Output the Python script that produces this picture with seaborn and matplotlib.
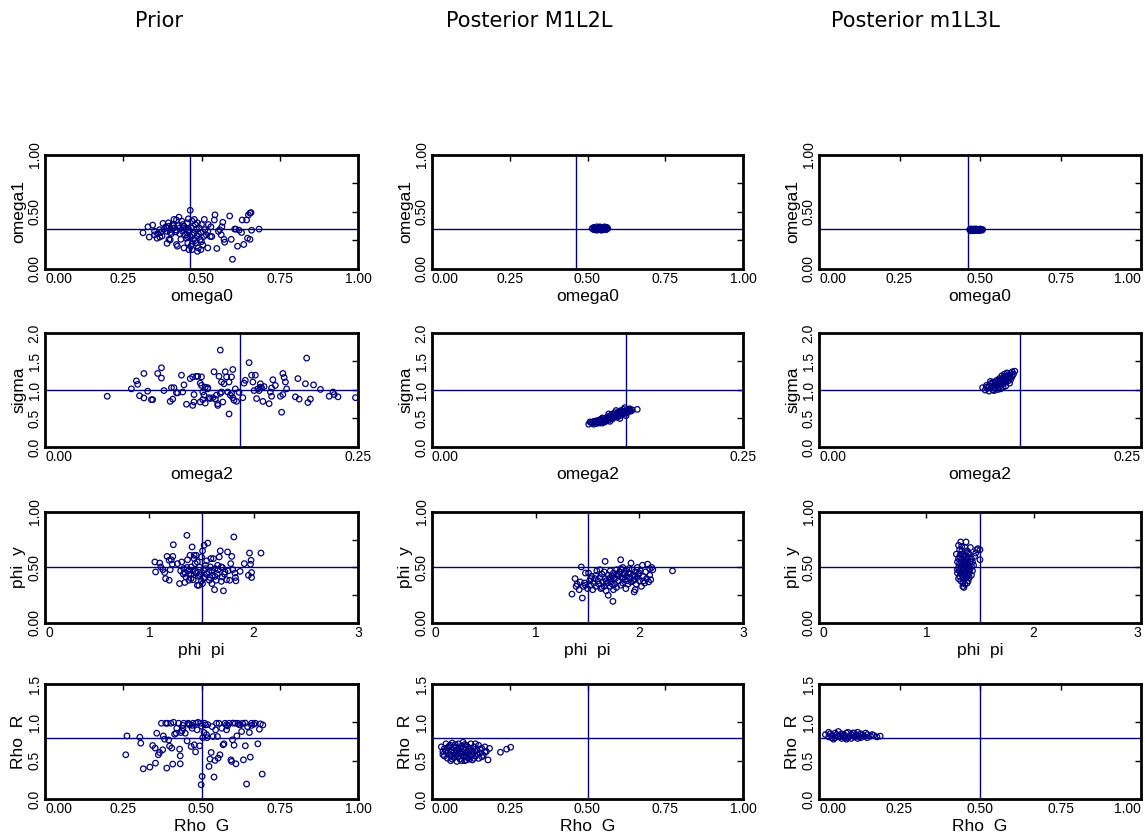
import matplotlib
matplotlib.use('Agg')
import matplotlib.pyplot as plt
import seaborn as sns
import pandas as pd

sns.set_style('white')
plt.rcParams['font.family'] = ['Liberation Sans', 'DejaVu Sans']
plt.rcParams['text.color'] = 'black'
plt.rcParams['axes.labelcolor'] = 'black'
plt.rcParams['xtick.color'] = 'black'
plt.rcParams['ytick.color'] = 'black'

col_titles = ["Prior", "Posterior M1L2L", "Posterior m1L3L"]
x_labels = ["omega0", "omega2", "phi  pi", "Rho  G"]
y_labels = ["omega1", "sigma", "phi  y", "Rho  R"]

# reference (true) values per row: (x, y)
true_omega = (0.462, 0.355)
true_sigma = (0.156, 1.0)
true_phi = (1.5, 0.5)
true_rho = (0.5, 0.8)

# ---------------- row 1: omega0 vs omega1 ----------------
prior_omega = [
    (0.313, 0.318), (0.329, 0.37), (0.344, 0.385), (0.333, 0.28), (0.35, 0.30), (0.358, 0.27),
    (0.367, 0.28), (0.374, 0.29), (0.377, 0.40), (0.386, 0.37), (0.39, 0.33), (0.39, 0.225),
    (0.396, 0.375), (0.40, 0.345), (0.404, 0.31), (0.408, 0.39), (0.412, 0.36), (0.394, 0.405),
    (0.418, 0.325), (0.42, 0.215), (0.423, 0.20), (0.42, 0.43), (0.426, 0.38), (0.43, 0.36),
    (0.434, 0.26), (0.437, 0.42), (0.44, 0.33), (0.444, 0.375), (0.448, 0.30), (0.452, 0.27),
    (0.456, 0.23), (0.458, 0.44), (0.464, 0.515), (0.46, 0.345), (0.464, 0.285), (0.466, 0.20),
    (0.468, 0.36), (0.47, 0.42), (0.475, 0.26), (0.477, 0.315), (0.48, 0.39), (0.482, 0.23),
    (0.484, 0.35), (0.487, 0.29), (0.49, 0.185), (0.493, 0.36), (0.496, 0.26), (0.498, 0.32),
    (0.50, 0.39), (0.504, 0.21), (0.507, 0.285), (0.511, 0.345), (0.52, 0.185), (0.522, 0.39),
    (0.528, 0.285), (0.533, 0.285), (0.541, 0.43), (0.543, 0.475), (0.549, 0.18), (0.554, 0.33),
    (0.558, 0.345), (0.563, 0.30), (0.565, 0.37), (0.568, 0.41), (0.572, 0.26), (0.574, 0.235),
    (0.59, 0.465), (0.595, 0.26), (0.599, 0.085), (0.606, 0.35), (0.61, 0.35), (0.615, 0.20),
    (0.62, 0.34), (0.628, 0.32), (0.63, 0.43), (0.635, 0.215), (0.644, 0.43), (0.647, 0.27),
    (0.65, 0.475), (0.655, 0.49), (0.658, 0.495), (0.655, 0.26), (0.66, 0.34), (0.684, 0.35),
    (0.428, 0.455), (0.412, 0.435), (0.396, 0.26), (0.40, 0.255), (0.444, 0.185), (0.46, 0.17),
    (0.47, 0.17), (0.487, 0.155), (0.498, 0.17), (0.509, 0.435), (0.477, 0.435), (0.487, 0.405),
    (0.455, 0.405), (0.44, 0.39), (0.38, 0.35), (0.366, 0.345), (0.47, 0.30), (0.48, 0.25),
    (0.46, 0.33), (0.49, 0.31), (0.45, 0.35), (0.43, 0.31), (0.41, 0.38), (0.40, 0.32),
    (0.47, 0.22), (0.50, 0.24), (0.52, 0.33), (0.53, 0.37), (0.515, 0.30), (0.455, 0.285),
    (0.44, 0.36), (0.42, 0.34), (0.39, 0.36), (0.37, 0.32), (0.36, 0.31), (0.35, 0.33),
]
m1l2l_omega = [
    (0.515, 0.355), (0.52, 0.345), (0.52, 0.365), (0.525, 0.35), (0.525, 0.36), (0.53, 0.34),
    (0.53, 0.37), (0.535, 0.355), (0.535, 0.345), (0.54, 0.36), (0.54, 0.35), (0.54, 0.37),
    (0.545, 0.34), (0.545, 0.355), (0.55, 0.365), (0.55, 0.345), (0.555, 0.35), (0.555, 0.37),
    (0.56, 0.36), (0.56, 0.345), (0.565, 0.355), (0.528, 0.357), (0.538, 0.365), (0.548, 0.352),
    (0.553, 0.36), (0.533, 0.348), (0.543, 0.347), (0.558, 0.353), (0.523, 0.358), (0.562, 0.365),
]
m1l3l_omega = [
    (0.468, 0.345), (0.472, 0.335), (0.472, 0.352), (0.476, 0.34), (0.478, 0.348), (0.482, 0.336),
    (0.484, 0.352), (0.488, 0.342), (0.49, 0.35), (0.494, 0.338), (0.496, 0.347), (0.50, 0.342),
    (0.502, 0.35), (0.506, 0.34), (0.508, 0.346), (0.48, 0.344), (0.492, 0.344), (0.498, 0.338),
    (0.47, 0.34), (0.486, 0.338), (0.50, 0.35), (0.504, 0.345),
]

# ---------------- row 2: omega2 vs sigma ----------------
prior_sigma = [
    (0.0497, 0.89), (0.069, 1.02), (0.073, 1.16), (0.074, 1.10), (0.0755, 0.90), (0.079, 1.29),
    (0.079, 0.86), (0.082, 0.98), (0.085, 0.83), (0.086, 0.83), (0.090, 1.29), (0.093, 1.39),
    (0.093, 1.21), (0.095, 0.99), (0.100, 0.80), (0.101, 1.04), (0.102, 0.84), (0.103, 1.04),
    (0.105, 0.95), (0.106, 0.95), (0.109, 1.26), (0.110, 0.965), (0.111, 1.09), (0.113, 0.75),
    (0.116, 1.20), (0.118, 1.23), (0.118, 0.73), (0.119, 0.79), (0.119, 0.92), (0.121, 1.24),
    (0.122, 1.24), (0.124, 0.79), (0.124, 1.12), (0.125, 1.08), (0.125, 1.23), (0.126, 0.83),
    (0.126, 0.965), (0.127, 0.91), (0.128, 1.05), (0.128, 0.77), (0.130, 1.04), (0.130, 1.02),
    (0.131, 0.865), (0.132, 0.85), (0.134, 0.865), (0.135, 1.32), (0.136, 0.84), (0.137, 0.91),
    (0.138, 0.73), (0.138, 0.76), (0.139, 1.24), (0.140, 0.94), (0.140, 1.70), (0.141, 0.965),
    (0.141, 1.14), (0.142, 0.79), (0.143, 1.11), (0.144, 1.32), (0.145, 1.23), (0.146, 0.965),
    (0.147, 1.14), (0.147, 0.58), (0.148, 0.91), (0.149, 0.94), (0.149, 1.23), (0.150, 0.865),
    (0.150, 1.36), (0.151, 0.82), (0.152, 1.02), (0.153, 0.80), (0.155, 0.96), (0.158, 0.865),
    (0.159, 1.12), (0.160, 1.17), (0.163, 1.48), (0.165, 1.26), (0.166, 1.14), (0.167, 0.99),
    (0.168, 1.26), (0.169, 0.85), (0.170, 1.02), (0.171, 0.99), (0.172, 1.05), (0.172, 1.11),
    (0.173, 1.04), (0.174, 0.80), (0.175, 1.06), (0.179, 0.76), (0.180, 0.965), (0.181, 1.035),
    (0.181, 0.89), (0.182, 1.18), (0.184, 1.08), (0.188, 0.89), (0.189, 0.61), (0.190, 1.29),
    (0.190, 0.92), (0.191, 1.22), (0.192, 1.14), (0.193, 1.02), (0.200, 0.88), (0.202, 1.20),
    (0.203, 0.84), (0.208, 1.11), (0.209, 1.56), (0.210, 0.78), (0.212, 0.84), (0.2145, 1.09),
    (0.220, 1.01), (0.227, 0.89), (0.230, 0.965), (0.231, 0.92), (0.234, 0.88), (0.248, 0.865),
]
m1l2l_sigma = [
    (0.126, 0.40), (0.127, 0.44), (0.129, 0.42), (0.130, 0.45), (0.132, 0.41), (0.132, 0.46),
    (0.134, 0.43), (0.135, 0.48), (0.136, 0.45), (0.137, 0.51), (0.138, 0.47), (0.139, 0.44),
    (0.140, 0.50), (0.141, 0.53), (0.142, 0.47), (0.143, 0.55), (0.144, 0.51), (0.145, 0.58),
    (0.145, 0.49), (0.146, 0.54), (0.147, 0.60), (0.148, 0.56), (0.149, 0.52), (0.150, 0.62),
    (0.150, 0.58), (0.151, 0.55), (0.152, 0.64), (0.152, 0.60), (0.153, 0.57), (0.154, 0.66),
    (0.155, 0.62), (0.155, 0.69), (0.156, 0.59), (0.157, 0.65), (0.158, 0.62), (0.159, 0.67),
    (0.160, 0.63), (0.165, 0.66), (0.148, 0.64), (0.142, 0.58), (0.137, 0.42), (0.143, 0.45),
    (0.151, 0.50), (0.156, 0.55), (0.133, 0.44), (0.139, 0.48), (0.146, 0.52), (0.153, 0.61),
    (0.128, 0.43), (0.131, 0.44), (0.134, 0.46), (0.136, 0.48), (0.138, 0.50), (0.140, 0.46),
    (0.141, 0.49), (0.143, 0.52), (0.144, 0.55), (0.146, 0.57), (0.147, 0.53), (0.149, 0.59),
    (0.150, 0.55), (0.151, 0.61), (0.153, 0.63), (0.154, 0.59), (0.156, 0.64), (0.157, 0.61),
    (0.158, 0.66), (0.159, 0.64), (0.161, 0.65), (0.130, 0.40), (0.135, 0.42), (0.139, 0.45),
]
m1l3l_sigma = [
    (0.127, 1.04), (0.129, 1.00), (0.130, 1.08), (0.131, 1.03), (0.132, 0.98), (0.133, 1.10),
    (0.134, 1.05), (0.135, 1.00), (0.135, 1.14), (0.136, 1.08), (0.137, 1.02), (0.138, 1.17),
    (0.138, 1.11), (0.139, 1.05), (0.140, 1.20), (0.140, 1.13), (0.141, 1.08), (0.142, 1.25),
    (0.142, 1.17), (0.143, 1.11), (0.144, 1.28), (0.144, 1.20), (0.145, 1.14), (0.146, 1.30),
    (0.146, 1.22), (0.147, 1.16), (0.148, 1.25), (0.149, 1.19), (0.150, 1.32), (0.151, 1.28),
    (0.152, 1.33), (0.137, 1.14), (0.141, 1.02), (0.145, 1.07), (0.133, 1.15), (0.148, 1.12),
    (0.130, 1.05), (0.132, 1.06), (0.134, 1.12), (0.136, 1.04), (0.137, 1.09), (0.139, 1.15),
    (0.140, 1.10), (0.141, 1.18), (0.142, 1.13), (0.143, 1.22), (0.144, 1.16), (0.145, 1.24),
    (0.146, 1.18), (0.147, 1.27), (0.148, 1.21), (0.149, 1.29), (0.150, 1.24), (0.136, 0.99),
    (0.139, 1.01), (0.143, 1.05),
]

# ---------------- row 3: phi pi vs phi y ----------------
prior_phi = [
    (1.053, 0.55), (1.06, 0.46), (1.10, 0.54), (1.11, 0.505), (1.13, 0.48), (1.147, 0.455),
    (1.156, 0.40), (1.17, 0.60), (1.19, 0.565), (1.19, 0.385), (1.20, 0.48), (1.21, 0.57),
    (1.22, 0.53), (1.225, 0.60), (1.23, 0.705), (1.27, 0.535), (1.29, 0.355), (1.30, 0.47),
    (1.31, 0.55), (1.325, 0.44), (1.33, 0.49), (1.34, 0.365), (1.35, 0.415), (1.36, 0.79),
    (1.366, 0.57), (1.375, 0.47), (1.38, 0.385), (1.39, 0.61), (1.40, 0.44), (1.40, 0.505),
    (1.41, 0.685), (1.42, 0.39), (1.43, 0.58), (1.43, 0.61), (1.44, 0.535), (1.44, 0.465),
    (1.45, 0.61), (1.46, 0.34), (1.47, 0.42), (1.475, 0.34), (1.48, 0.505), (1.49, 0.445),
    (1.50, 0.595), (1.51, 0.355), (1.51, 0.65), (1.52, 0.475), (1.525, 0.70), (1.53, 0.41),
    (1.54, 0.49), (1.55, 0.56), (1.56, 0.72), (1.57, 0.46), (1.575, 0.385), (1.585, 0.505),
    (1.59, 0.58), (1.60, 0.355), (1.605, 0.43), (1.615, 0.58), (1.625, 0.30), (1.63, 0.49),
    (1.64, 0.385), (1.65, 0.445), (1.655, 0.52), (1.67, 0.595), (1.68, 0.65), (1.69, 0.505),
    (1.69, 0.375), (1.70, 0.415), (1.71, 0.29), (1.725, 0.46), (1.74, 0.39), (1.75, 0.64),
    (1.756, 0.47), (1.77, 0.385), (1.78, 0.535), (1.79, 0.60), (1.80, 0.48), (1.81, 0.775),
    (1.82, 0.45), (1.825, 0.41), (1.83, 0.38), (1.87, 0.465), (1.91, 0.535), (1.95, 0.43),
    (1.96, 0.63), (1.97, 0.53), (1.975, 0.565), (1.98, 0.455), (1.98, 0.41), (2.07, 0.63),
    (1.45, 0.45), (1.48, 0.43), (1.52, 0.40), (1.55, 0.44), (1.42, 0.47), (1.38, 0.44),
    (1.36, 0.50), (1.60, 0.47), (1.63, 0.42), (1.66, 0.48), (1.70, 0.50), (1.72, 0.44),
    (1.58, 0.41), (1.50, 0.38), (1.40, 0.40), (1.34, 0.45), (1.46, 0.55), (1.54, 0.52),
]
m1l2l_phi = [
    (1.35, 0.26), (1.38, 0.40), (1.39, 0.33), (1.40, 0.35), (1.42, 0.30), (1.44, 0.505),
    (1.45, 0.225), (1.46, 0.33), (1.47, 0.36), (1.48, 0.45), (1.50, 0.31), (1.51, 0.45),
    (1.52, 0.38), (1.53, 0.34), (1.54, 0.42), (1.55, 0.30), (1.56, 0.36), (1.57, 0.40),
    (1.58, 0.33), (1.59, 0.47), (1.60, 0.38), (1.61, 0.35), (1.62, 0.41), (1.63, 0.31),
    (1.64, 0.44), (1.65, 0.37), (1.66, 0.33), (1.67, 0.555), (1.67, 0.40), (1.68, 0.29),
    (1.69, 0.36), (1.70, 0.43), (1.70, 0.25), (1.71, 0.39), (1.72, 0.33), (1.72, 0.47),
    (1.73, 0.37), (1.74, 0.42), (1.745, 0.195), (1.75, 0.30), (1.75, 0.45), (1.76, 0.35),
    (1.77, 0.40), (1.78, 0.48), (1.78, 0.32), (1.79, 0.43), (1.80, 0.38), (1.81, 0.46),
    (1.82, 0.57), (1.82, 0.34), (1.83, 0.41), (1.84, 0.50), (1.84, 0.36), (1.85, 0.44),
    (1.86, 0.39), (1.87, 0.47), (1.87, 0.31), (1.88, 0.42), (1.89, 0.35), (1.90, 0.45),
    (1.91, 0.40), (1.92, 0.54), (1.92, 0.37), (1.93, 0.48), (1.94, 0.43), (1.95, 0.28),
    (1.95, 0.39), (1.96, 0.46), (1.97, 0.35), (1.98, 0.50), (1.98, 0.41), (1.99, 0.44),
    (2.00, 0.38), (2.01, 0.47), (2.02, 0.33), (2.03, 0.52), (2.04, 0.42), (2.05, 0.36),
    (2.06, 0.46), (2.07, 0.40), (2.08, 0.53), (2.09, 0.37), (2.10, 0.49), (2.10, 0.43),
    (2.11, 0.39), (2.12, 0.50), (2.13, 0.48), (2.32, 0.47), (1.62, 0.48), (1.66, 0.46),
    (1.76, 0.41), (1.80, 0.43), (1.86, 0.45), (1.90, 0.41), (1.94, 0.38), (1.58, 0.43),
    (1.53, 0.40), (1.48, 0.34), (1.43, 0.37), (1.64, 0.32), (1.68, 0.38), (1.74, 0.35),
    (1.84, 0.40), (1.88, 0.38), (1.96, 0.42), (2.00, 0.45), (1.78, 0.44), (1.72, 0.41),
    (1.82, 0.49), (1.90, 0.49), (1.96, 0.30), (2.04, 0.38),
]
m1l3l_phi = [
    (1.28, 0.62), (1.29, 0.45), (1.29, 0.55), (1.30, 0.70), (1.30, 0.50), (1.30, 0.40),
    (1.31, 0.60), (1.31, 0.47), (1.32, 0.73), (1.32, 0.53), (1.32, 0.38), (1.33, 0.65),
    (1.33, 0.44), (1.33, 0.58), (1.34, 0.50), (1.34, 0.36), (1.34, 0.62), (1.35, 0.32),
    (1.35, 0.55), (1.35, 0.45), (1.36, 0.68), (1.36, 0.40), (1.36, 0.52), (1.37, 0.60),
    (1.37, 0.47), (1.37, 0.73), (1.38, 0.57), (1.38, 0.42), (1.38, 0.65), (1.39, 0.50),
    (1.39, 0.38), (1.40, 0.62), (1.40, 0.46), (1.41, 0.55), (1.41, 0.68), (1.42, 0.43),
    (1.42, 0.58), (1.43, 0.47), (1.44, 0.52), (1.45, 0.60), (1.46, 0.63), (1.47, 0.66),
    (1.48, 0.67), (1.50, 0.66), (1.50, 0.57), (1.31, 0.42), (1.33, 0.51), (1.35, 0.49),
    (1.37, 0.54), (1.39, 0.59), (1.29, 0.48), (1.36, 0.35), (1.38, 0.36),
    (1.30, 0.58), (1.31, 0.54), (1.32, 0.45), (1.32, 0.62), (1.33, 0.48), (1.34, 0.55),
    (1.34, 0.42), (1.35, 0.60), (1.35, 0.39), (1.36, 0.57), (1.36, 0.45), (1.37, 0.50),
    (1.37, 0.41), (1.38, 0.48), (1.38, 0.53), (1.39, 0.44), (1.39, 0.63), (1.40, 0.52),
    (1.40, 0.41), (1.41, 0.49), (1.42, 0.51), (1.43, 0.55), (1.33, 0.69), (1.31, 0.66),
    (1.34, 0.33),
]

# ---------------- row 4: Rho G vs Rho R ----------------
prior_rho = [
    (0.258, 0.577), (0.262, 0.823), (0.303, 0.806), (0.306, 0.728), (0.314, 0.394), (0.335, 0.416),
    (0.344, 0.698), (0.352, 0.664), (0.353, 0.468), (0.357, 0.858), (0.362, 0.577), (0.366, 0.607),
    (0.372, 0.988), (0.376, 0.642), (0.378, 0.823), (0.382, 0.78), (0.386, 0.988), (0.389, 0.403),
    (0.391, 0.988), (0.395, 0.77), (0.398, 0.69), (0.402, 0.988), (0.405, 0.664), (0.408, 0.455),
    (0.411, 1.0), (0.414, 0.845), (0.419, 0.858), (0.421, 0.923), (0.427, 0.988), (0.43, 0.65),
    (0.432, 0.459), (0.432, 0.563), (0.434, 0.867), (0.438, 0.889), (0.441, 0.923), (0.443, 0.988),
    (0.448, 0.858), (0.454, 0.758), (0.457, 0.988), (0.462, 0.966), (0.467, 0.685), (0.47, 0.923),
    (0.473, 0.988), (0.477, 0.707), (0.481, 0.615), (0.483, 0.988), (0.486, 0.902), (0.489, 1.0),
    (0.494, 0.694), (0.497, 0.988), (0.499, 0.186), (0.502, 0.295), (0.504, 0.80), (0.508, 0.867),
    (0.51, 0.988), (0.513, 0.966), (0.516, 0.84), (0.518, 0.80), (0.524, 0.425), (0.527, 0.52),
    (0.531, 0.607), (0.534, 0.944), (0.537, 0.815), (0.54, 0.286), (0.543, 0.503), (0.545, 0.902),
    (0.548, 0.988), (0.551, 0.815), (0.553, 0.533), (0.556, 0.988), (0.559, 0.577), (0.565, 0.923),
    (0.569, 0.707), (0.572, 0.72), (0.575, 0.988), (0.58, 0.902), (0.583, 0.953), (0.588, 0.988),
    (0.594, 0.511), (0.596, 0.49), (0.599, 0.772), (0.604, 0.702), (0.608, 0.988), (0.61, 0.459),
    (0.613, 0.823), (0.617, 0.988), (0.624, 0.966), (0.628, 0.88), (0.631, 0.988), (0.634, 0.511),
    (0.64, 0.694), (0.644, 0.195), (0.647, 0.944), (0.653, 0.867), (0.656, 0.546), (0.66, 0.988),
    (0.667, 0.975), (0.672, 0.988), (0.68, 0.72), (0.685, 0.91), (0.688, 0.98), (0.694, 0.325),
    (0.696, 0.966), (0.46, 0.98), (0.47, 0.96), (0.52, 0.97), (0.58, 0.97), (0.60, 0.99),
    (0.62, 0.97), (0.64, 0.99), (0.66, 0.96), (0.50, 0.95), (0.44, 0.96),
]
m1l2l_rho = [
    (0.03, 0.68), (0.035, 0.62), (0.04, 0.56), (0.04, 0.66), (0.045, 0.72), (0.05, 0.53),
    (0.05, 0.60), (0.055, 0.69), (0.06, 0.50), (0.06, 0.57), (0.065, 0.64), (0.065, 0.73),
    (0.07, 0.54), (0.07, 0.61), (0.075, 0.68), (0.08, 0.49), (0.08, 0.58), (0.085, 0.65),
    (0.085, 0.72), (0.09, 0.52), (0.09, 0.62), (0.095, 0.69), (0.10, 0.56), (0.10, 0.74),
    (0.105, 0.50), (0.105, 0.64), (0.11, 0.60), (0.11, 0.70), (0.115, 0.54), (0.12, 0.66),
    (0.12, 0.58), (0.125, 0.72), (0.13, 0.51), (0.13, 0.62), (0.135, 0.68), (0.14, 0.56),
    (0.145, 0.64), (0.15, 0.70), (0.15, 0.53), (0.155, 0.60), (0.16, 0.66), (0.165, 0.57),
    (0.17, 0.68), (0.175, 0.62), (0.18, 0.51), (0.185, 0.66), (0.22, 0.61), (0.24, 0.65),
    (0.253, 0.675), (0.06, 0.70), (0.075, 0.55), (0.095, 0.58), (0.115, 0.68), (0.14, 0.72),
    (0.10, 0.66), (0.08, 0.63), (0.125, 0.55), (0.06, 0.61),
    (0.045, 0.63), (0.055, 0.58), (0.065, 0.52), (0.07, 0.67), (0.075, 0.71), (0.085, 0.55),
    (0.09, 0.59), (0.095, 0.50), (0.10, 0.61), (0.105, 0.71), (0.11, 0.55), (0.115, 0.63),
    (0.12, 0.52), (0.125, 0.65), (0.13, 0.58), (0.135, 0.53), (0.14, 0.62), (0.145, 0.59),
    (0.155, 0.65), (0.16, 0.55), (0.17, 0.61), (0.05, 0.67), (0.035, 0.58), (0.09, 0.66),
    (0.11, 0.51),
]
m1l3l_rho = [
    (0.02, 0.84), (0.03, 0.81), (0.03, 0.87), (0.04, 0.83), (0.05, 0.80), (0.05, 0.86),
    (0.06, 0.82), (0.07, 0.85), (0.07, 0.79), (0.08, 0.83), (0.09, 0.87), (0.09, 0.80),
    (0.10, 0.84), (0.11, 0.81), (0.11, 0.86), (0.12, 0.83), (0.13, 0.80), (0.13, 0.85),
    (0.14, 0.82), (0.15, 0.84), (0.15, 0.80), (0.16, 0.82), (0.17, 0.83), (0.18, 0.81),
    (0.19, 0.82), (0.06, 0.88), (0.085, 0.78), (0.12, 0.87), (0.045, 0.78), (0.10, 0.79),
    (0.035, 0.85), (0.055, 0.84), (0.065, 0.81), (0.075, 0.83), (0.085, 0.86), (0.095, 0.82),
    (0.105, 0.86), (0.115, 0.83), (0.125, 0.81), (0.135, 0.83), (0.145, 0.86), (0.165, 0.84),
    (0.04, 0.80), (0.08, 0.80), (0.12, 0.79),
]

panels = [
    [prior_omega, m1l2l_omega, m1l3l_omega],
    [prior_sigma, m1l2l_sigma, m1l3l_sigma],
    [prior_phi, m1l2l_phi, m1l3l_phi],
    [prior_rho, m1l2l_rho, m1l3l_rho],
]
true_vals = [true_omega, true_sigma, true_phi, true_rho]

row_cfg = [
    dict(xlim=(0, 1), xticks=[0, .25, .5, .75, 1], xtl=['0.00', '0.25', '0.50', '0.75', '1.00'],
         ylim=(0, 1), yticks=[0, .25, .5, .75, 1], ytl=['0.00', '', '0.50', '', '1.00']),
    dict(xlim=(0, .25), xticks=[0, .25], xtl=['0.00', '0.25'],
         ylim=(0, 2), yticks=[0, .5, 1, 1.5, 2], ytl=['0.0', '0.5', '1.0', '1.5', '2.0']),
    dict(xlim=(0, 3), xticks=[0, 1, 2, 3], xtl=['0', '1', '2', '3'],
         ylim=(0, 1), yticks=[0, .25, .5, .75, 1], ytl=['0.00', '', '0.50', '', '1.00']),
    dict(xlim=(0, 1), xticks=[0, .25, .5, .75, 1], xtl=['0.00', '0.25', '0.50', '0.75', '1.00'],
         ylim=(0, 1.5), yticks=[0, .5, 1, 1.5], ytl=['0.0', '0.5', '1.0', '1.5']),
]

W, H = 1145, 838
fig = plt.figure(figsize=(W / 100, H / 100), dpi=100)
fig.patch.set_facecolor('white')

cols_px = [(45, 358), (432, 743), (819, 1141)]
rows_px = [(155, 269), (333, 447), (512, 623), (684, 799)]
NAVY = '#000080'

for r, (t, b) in enumerate(rows_px):
    cfg = row_cfg[r]
    for c, (l, rr) in enumerate(cols_px):
        ax = fig.add_axes([l / W, 1 - b / H, (rr - l) / W, (b - t) / H])
        pts = panels[r][c]
        df = pd.DataFrame(pts, columns=['x', 'y'])
        tx, ty = true_vals[r]
        ax.axvline(tx, color=NAVY, lw=1.0, zorder=1)
        ax.axhline(ty, color=NAVY, lw=1.0, zorder=1)
        sns.scatterplot(data=df, x='x', y='y', ax=ax, marker='o', s=16,
                        facecolors='none', edgecolor=NAVY, linewidth=0.9, zorder=3)
        ax.set_xlim(*cfg['xlim'])
        ax.set_ylim(*cfg['ylim'])
        ax.set_xticks(cfg['xticks'])
        ax.set_xticklabels(cfg['xtl'])
        ax.set_yticks(cfg['yticks'])
        ax.set_yticklabels(cfg['ytl'], rotation=90, va='center')
        xtls = ax.get_xticklabels()
        xtls[0].set_ha('left')
        if c == 2:
            xtls[-1].set_ha('right')
        ax.tick_params(direction='in', length=4, width=1, top=True, right=True,
                       labelsize=10, pad=2.5, colors='black')
        for sp in ax.spines.values():
            sp.set_visible(True)
            sp.set_linewidth(2.0)
            sp.set_color('black')
        ax.set_xlabel(x_labels[r], fontsize=12.5, labelpad=2, color='black')
        ax.set_ylabel(y_labels[r], fontsize=12.5, labelpad=1, color='black')
        ax.grid(False)

title_x = [159, 529, 915]
for c, tt in enumerate(col_titles):
    fig.text(title_x[c] / W, 1 - 21 / H, tt, ha='center', va='center', fontsize=15,
             family=['DejaVu Sans'], color='black')

fig.savefig('out.png', dpi=100, facecolor='white')
